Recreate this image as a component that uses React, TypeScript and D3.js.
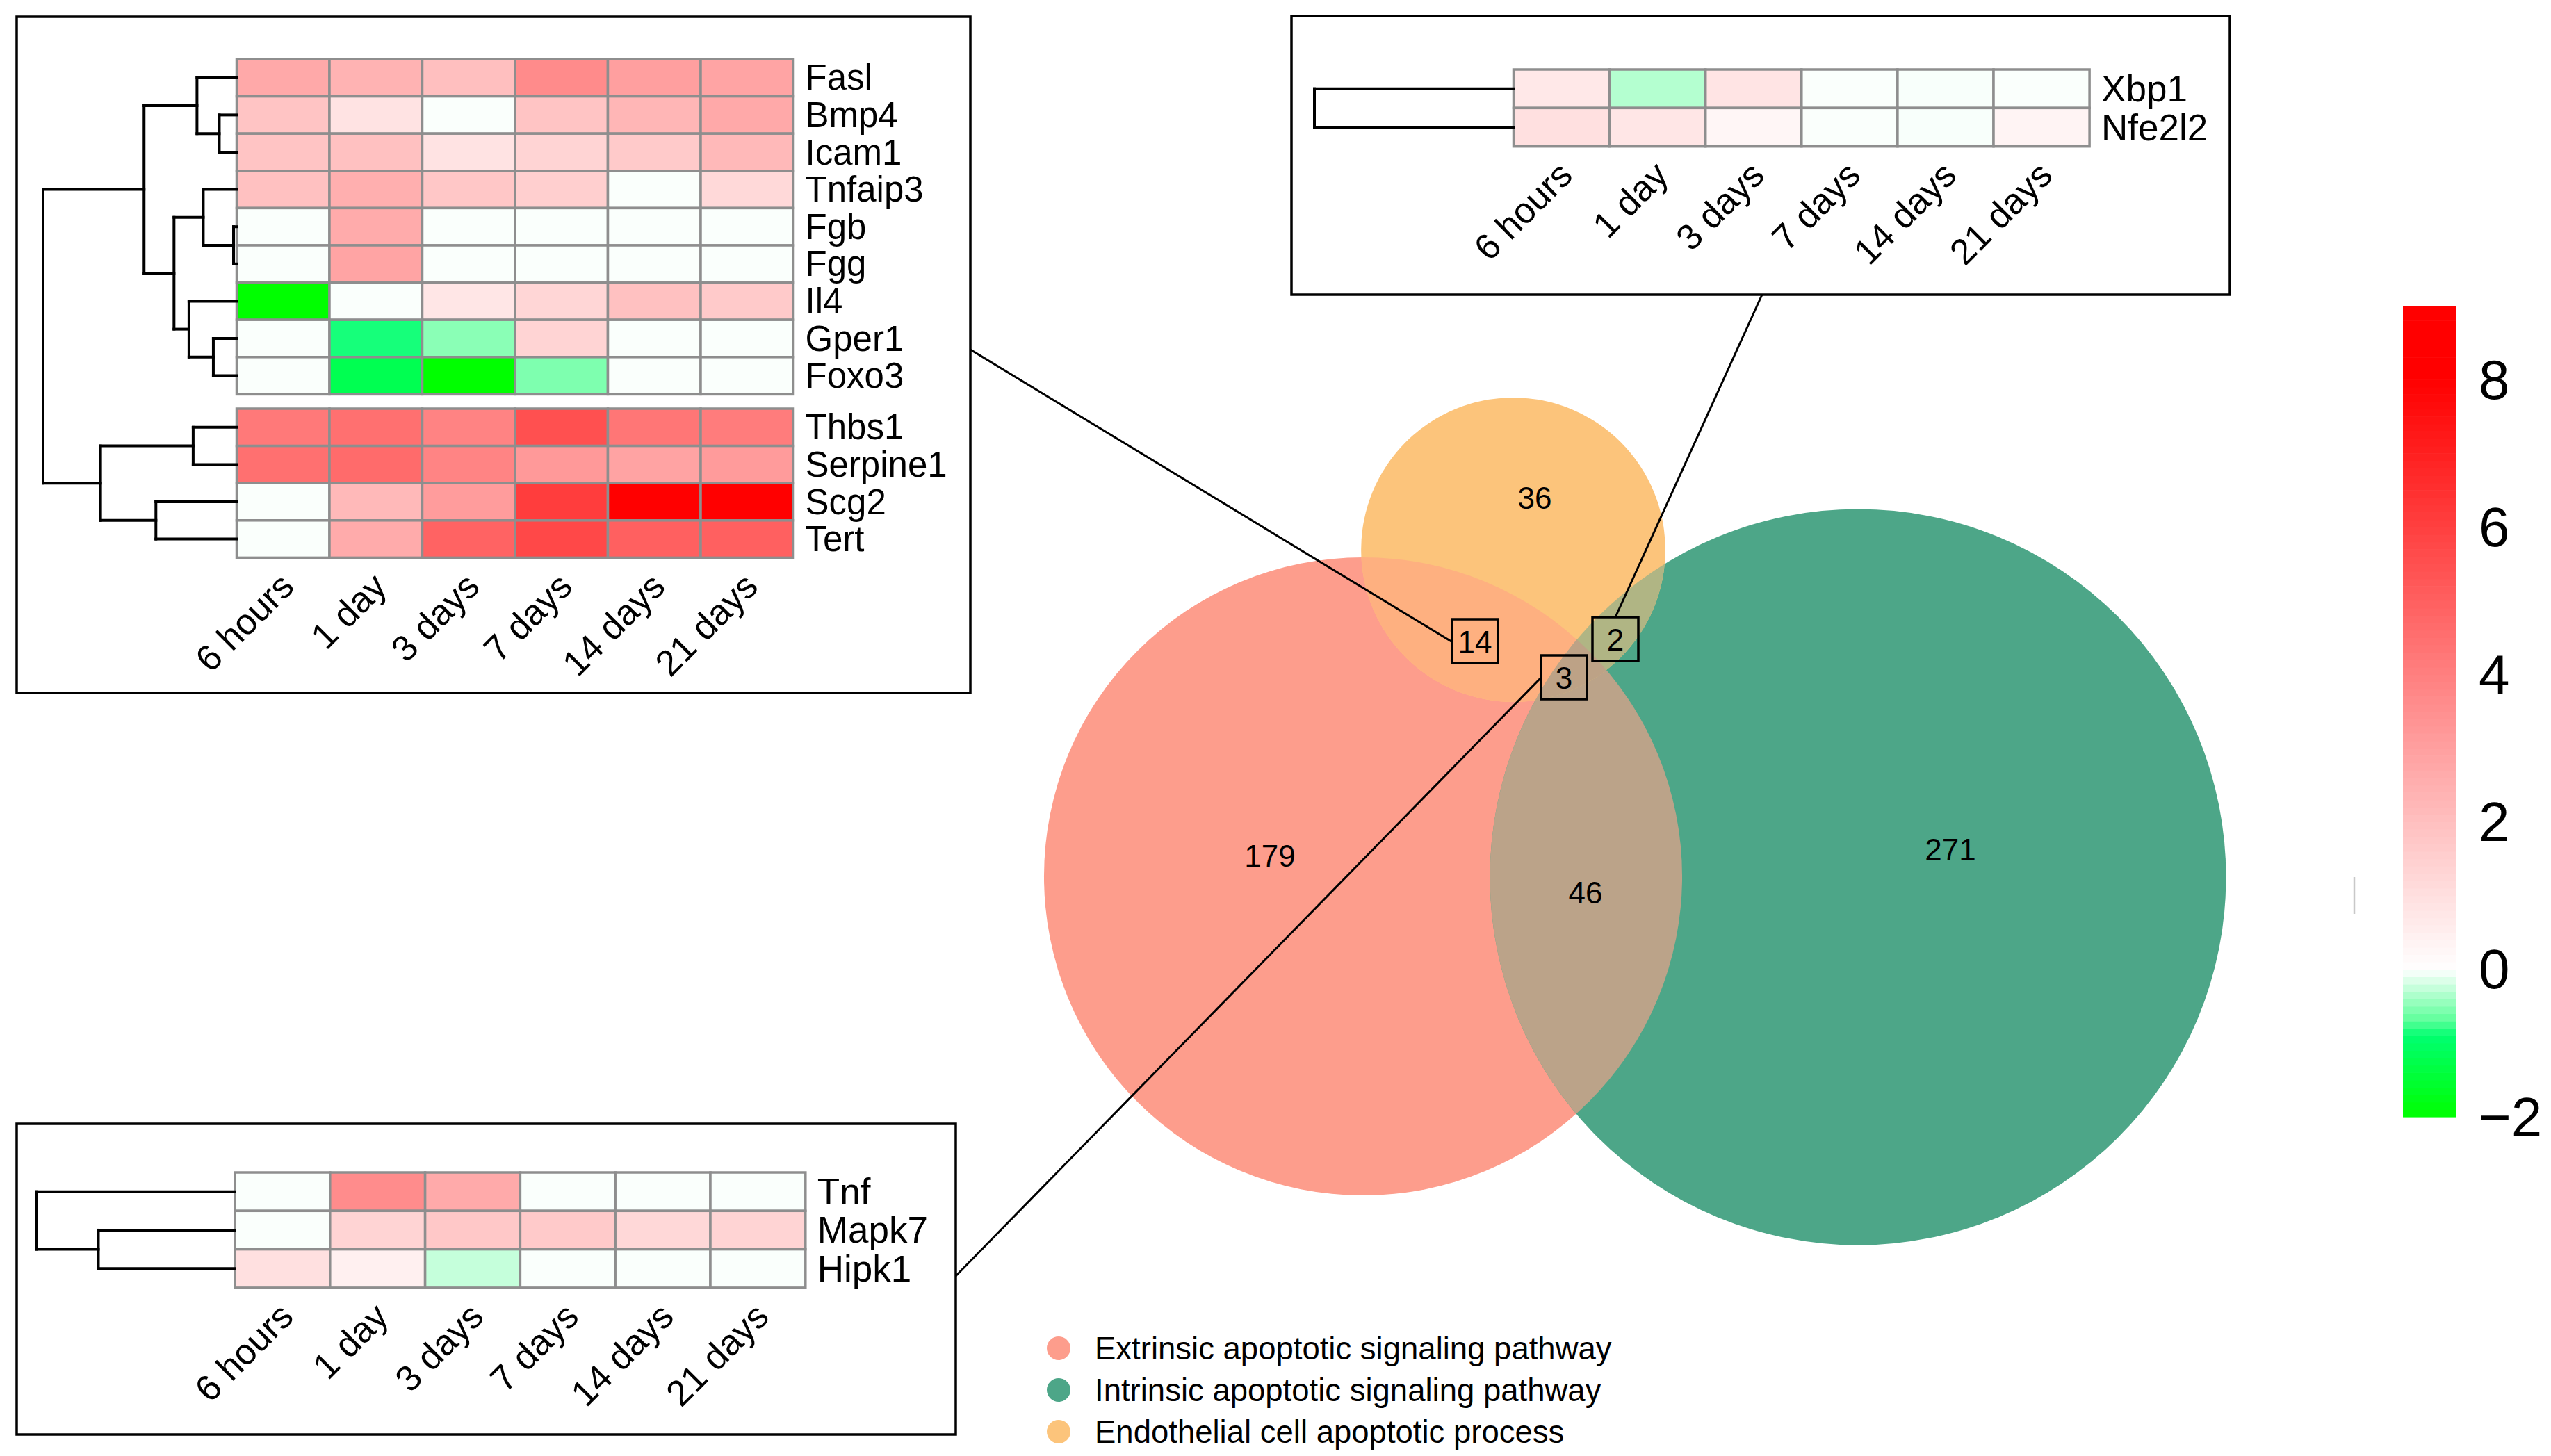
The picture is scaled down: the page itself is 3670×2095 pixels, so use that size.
import { useEffect, useRef } from 'react';
import * as d3 from 'd3';

const timepoints = ["6 hours", "1 day", "3 days", "7 days", "14 days", "21 days"];

// Extrinsic ∩ Endothelial genes (top-left heatmap), log2 fold change
const extEndoGenes = ["Fasl", "Bmp4", "Icam1", "Tnfaip3", "Fgb", "Fgg", "Il4", "Gper1", "Foxo3", "Thbs1", "Serpine1", "Scg2", "Tert"];
const extEndoValues = [
  [2.7, 2.4, 2.0, 3.65, 3.0, 2.85],
  [1.85, 0.88, -0.02, 1.85, 2.3, 2.7],
  [1.85, 1.95, 0.88, 1.35, 1.65, 2.2],
  [1.95, 2.5, 1.75, 1.5, -0.02, 1.2],
  [-0.02, 2.65, -0.02, -0.02, -0.02, -0.02],
  [-0.02, 2.85, -0.02, -0.02, -0.02, -0.02],
  [-2, -0.02, 0.78, 1.3, 1.95, 1.65],
  [-0.02, -0.85, -0.5, 1.35, -0.02, -0.02],
  [-0.02, -1.2, -2, -0.55, -0.02, -0.02],
  [4.2, 4.5, 3.9, 5.5, 4.3, 4.1],
  [4.5, 4.65, 3.85, 3.2, 2.9, 3.15],
  [-0.02, 2.2, 3.1, 6.1, 8.6, 8.4],
  [-0.02, 2.65, 4.9, 5.75, 5.0, 5.0],
];
// merge heights of the row clustering
const extEndoTree = {
  h: 27.8, children: [
    { h: 13.3, children: [
      { h: 5.7, children: [{ leaf: 0 }, { h: 2.5, children: [{ leaf: 1 }, { leaf: 2 }] }] },
      { h: 9.0, children: [
        { h: 4.8, children: [{ leaf: 3 }, { h: 0.45, children: [{ leaf: 4 }, { leaf: 5 }] }] },
        { h: 6.85, children: [{ leaf: 6 }, { h: 3.35, children: [{ leaf: 7 }, { leaf: 8 }] }] },
      ] },
    ] },
    { h: 19.55, children: [
      { h: 6.25, children: [{ leaf: 9 }, { leaf: 10 }] },
      { h: 11.6, children: [{ leaf: 11 }, { leaf: 12 }] },
    ] },
  ],
};

// Intrinsic ∩ Endothelial genes (top-right heatmap)
const intEndoGenes = ["Xbp1", "Nfe2l2"];
const intEndoValues = [
  [0.72, -0.32, 0.85, -0.02, -0.03, -0.02],
  [0.97, 0.78, 0.28, -0.02, -0.03, 0.34],
];
const intEndoTree = { h: 1.9, children: [{ leaf: 0 }, { leaf: 1 }] };

// genes in all three sets (bottom-left heatmap)
const allGenes = ["Tnf", "Mapk7", "Hipk1"];
const allValues = [
  [-0.02, 3.6, 2.67, -0.02, -0.02, -0.02],
  [-0.02, 1.35, 1.73, 1.66, 1.22, 1.35],
  [0.97, 0.47, -0.25, -0.02, -0.02, -0.02],
];
const allTree = { h: 3.1, children: [{ leaf: 0 }, { h: 2.13, children: [{ leaf: 1 }, { leaf: 2 }] }] };

// Venn sets
const setNames = ["Extrinsic apoptotic signaling pathway", "Intrinsic apoptotic signaling pathway", "Endothelial cell apoptotic process"];
const setColors = ["#FD9D8C", "#4DA688", "#FCC47B"];
// regions: ext only, int only, endo only, ext&int, ext&endo, int&endo, all
const regionKeys = ["E", "I", "D", "EI", "ED", "ID", "EID"];
const regionCounts = [179, 271, 36, 46, 14, 2, 3];
const overlapColors = { EI: "#BBA389", ED: "#FEB080", ID: "#B0B584", EID: "#BDA286" };

const colorTicks = [-2, 0, 2, 4, 6, 8];

const FONT = "'Liberation Sans', Arial, Helvetica, sans-serif";

const color = d3.scaleLinear<string>()
  .domain([-2, -0.9, -0.68, 0, 8])
  .range(["#00ff00", "#00ff70", "#60ff9c", "#ffffff", "#ff0000"])
  .clamp(true);

type TreeNode = { h?: number; leaf?: number; children?: TreeNode[] };

interface PanelLayout {
  box: [number, number, number, number];
  left: number;
  top: number;
  cellW: number;
  cellH: number;
  treeW: number;
  labelSize: number;
  gapAfter?: number;
  gap?: number;
}

function drawPanel(
  svg: d3.Selection<SVGSVGElement, unknown, null, undefined>,
  genes: string[],
  values: number[][],
  tree: TreeNode,
  L: PanelLayout
) {
  const g = svg.append("g");

  // frame
  g.append("rect")
    .attr("x", L.box[0]).attr("y", L.box[1])
    .attr("width", L.box[2] - L.box[0]).attr("height", L.box[3] - L.box[1])
    .attr("fill", "white").attr("stroke", "black").attr("stroke-width", 3.5);

  const x = d3.scaleBand().domain(timepoints).range([L.left, L.left + L.cellW * timepoints.length]);
  const rowY = (i: number) => L.top + i * L.cellH + (L.gapAfter !== undefined && i > L.gapAfter ? (L.gap || 0) : 0);
  const bottom = rowY(genes.length - 1) + L.cellH;

  // cells
  genes.forEach((gene, i) => {
    g.selectAll(null)
      .data(values[i])
      .enter()
      .append("rect")
      .attr("x", (_, j) => x(timepoints[j]) || 0)
      .attr("y", rowY(i))
      .attr("width", x.bandwidth())
      .attr("height", L.cellH)
      .attr("fill", d => color(d))
      .attr("stroke", "#8e8e8e")
      .attr("stroke-width", 3.5);
  });

  // row labels
  g.selectAll(null)
    .data(genes)
    .enter()
    .append("text")
    .attr("x", x.range()[1] + 17)
    .attr("y", (_, i) => rowY(i) + L.cellH / 2)
    .attr("dominant-baseline", "central")
    .attr("font-family", FONT)
    .attr("font-size", L.labelSize)
    .text(d => d);

  // column labels
  g.selectAll(null)
    .data(timepoints)
    .enter()
    .append("text")
    .attr("transform", d => `translate(${(x(d) || 0) + x.bandwidth() / 2 - 8},${bottom + 18}) rotate(-45)`)
    .attr("text-anchor", "end")
    .attr("dy", "0.72em")
    .attr("font-family", FONT)
    .attr("font-size", 52)
    .text(d => d);

  // dendrogram
  const hx = d3.scaleLinear().domain([0, tree.h || 1]).range([L.left, L.left - L.treeW]);
  const lines: [number, number, number, number][] = [];
  const walk = (n: TreeNode): number => {
    if (n.leaf !== undefined) return rowY(n.leaf) + L.cellH / 2;
    const ys = (n.children || []).map(walk);
    const xn = hx(n.h || 0);
    lines.push([xn, ys[0], xn, ys[ys.length - 1]]);
    (n.children || []).forEach((c, k) => {
      lines.push([xn, ys[k], hx(c.leaf !== undefined ? 0 : (c.h || 0)), ys[k]]);
    });
    return (ys[0] + ys[ys.length - 1]) / 2;
  };
  walk(tree);
  g.selectAll(null)
    .data(lines)
    .enter()
    .append("line")
    .attr("x1", d => d[0]).attr("y1", d => d[1])
    .attr("x2", d => d[2]).attr("y2", d => d[3])
    .attr("stroke", "black")
    .attr("stroke-width", 4)
    .attr("stroke-linecap", "square");
}

export default function App() {
  const svgRef = useRef<SVGSVGElement>(null);

  useEffect(() => {
    if (!svgRef.current) return;
    const svg = d3.select(svgRef.current);
    svg.selectAll("*").remove();

    svg.append("rect").attr("width", 3670).attr("height", 2095).attr("fill", "white");

    // ---- Venn diagram ----
    const totals = [
      regionCounts[0] + regionCounts[3] + regionCounts[4] + regionCounts[6],
      regionCounts[1] + regionCounts[3] + regionCounts[5] + regionCounts[6],
      regionCounts[2] + regionCounts[4] + regionCounts[5] + regionCounts[6],
    ];
    const r = d3.scaleSqrt().domain([0, d3.max(totals) || 1]).range([0, 529.5]);
    const centers: [number, number][] = [[1961, 1261], [2673, 1262], [2177, 791]];
    const ids = ["clip-ext", "clip-int", "clip-endo"];

    const defs = svg.append("defs");
    ids.forEach((id, i) => {
      defs.append("clipPath").attr("id", id)
        .append("circle").attr("cx", centers[i][0]).attr("cy", centers[i][1]).attr("r", r(totals[i]));
    });

    const venn = svg.append("g");
    const circle = (parent: d3.Selection<SVGGElement, unknown, null, undefined>, i: number, fill: string) =>
      parent.append("circle")
        .attr("cx", centers[i][0]).attr("cy", centers[i][1]).attr("r", r(totals[i]))
        .attr("fill", fill);

    setColors.forEach((c, i) => circle(venn, i, c));
    circle(venn, 1, overlapColors.EI).attr("clip-path", "url(#clip-ext)");
    circle(venn, 2, overlapColors.ED).attr("clip-path", "url(#clip-ext)");
    circle(venn, 2, overlapColors.ID).attr("clip-path", "url(#clip-int)");
    const tri = venn.append("g").attr("clip-path", "url(#clip-int)");
    circle(tri, 2, overlapColors.EID).attr("clip-path", "url(#clip-ext)");

    // region labels
    const labelPos: Record<string, [number, number]> = {
      E: [1827, 1231], I: [2806, 1222], D: [2208, 716], EI: [2281, 1284],
      ED: [2122, 923], ID: [2324, 920], EID: [2250, 975],
    };
    const boxed = ["ED", "ID", "EID"];

    // leader lines from boxed counts to heatmap panels
    const leaders: [number, number, number, number][] = [
      [1396, 503, 2088, 923],
      [2535, 424, 2324, 888],
      [1375, 1836, 2217, 975],
    ];
    svg.selectAll(null)
      .data(leaders)
      .enter()
      .append("line")
      .attr("x1", d => d[0]).attr("y1", d => d[1])
      .attr("x2", d => d[2]).attr("y2", d => d[3])
      .attr("stroke", "black").attr("stroke-width", 3);

    regionKeys.forEach((k, i) => {
      const [lx, ly] = labelPos[k];
      if (boxed.includes(k)) {
        svg.append("rect")
          .attr("x", lx - 33).attr("y", ly - 32)
          .attr("width", 66).attr("height", 63)
          .attr("fill", "none").attr("stroke", "black").attr("stroke-width", 3.5);
      }
      svg.append("text")
        .attr("x", lx).attr("y", ly)
        .attr("text-anchor", "middle").attr("dominant-baseline", "central")
        .attr("font-family", FONT).attr("font-size", 44)
        .text(regionCounts[i]);
    });

    // legend
    const legY = d3.scaleBand().domain(setNames).range([1910, 2090]);
    const leg = svg.append("g");
    leg.selectAll(null).data(setNames).enter().append("circle")
      .attr("cx", 1523).attr("cy", d => (legY(d) || 0) + legY.bandwidth() / 2)
      .attr("r", 17).attr("fill", (_, i) => setColors[i]);
    leg.selectAll(null).data(setNames).enter().append("text")
      .attr("x", 1575).attr("y", d => (legY(d) || 0) + legY.bandwidth() / 2)
      .attr("dominant-baseline", "central")
      .attr("font-family", FONT).attr("font-size", 45.5)
      .text(d => d);

    // ---- heatmap panels ----
    drawPanel(svg, extEndoGenes, extEndoValues, extEndoTree, {
      box: [24, 24, 1396, 997], left: 340.5, top: 85, cellW: 133.5, cellH: 53.6,
      treeW: 278.5, labelSize: 51, gapAfter: 8, gap: 20.6,
    });
    drawPanel(svg, intEndoGenes, intEndoValues, intEndoTree, {
      box: [1858, 23, 3208, 424], left: 2177.5, top: 100, cellW: 138.1, cellH: 55.35,
      treeW: 286.5, labelSize: 53,
    });
    drawPanel(svg, allGenes, allValues, allTree, {
      box: [24, 1617, 1375, 2064], left: 338, top: 1687, cellW: 136.8, cellH: 55.3,
      treeW: 286, labelSize: 53,
    });

    // ---- colour key ----
    const ky = d3.scaleLinear().domain([-2, 9]).range([1607, 440]);
    const steps = d3.range(-2, 9, 0.1);
    const key = svg.append("g");
    key.selectAll(null).data(steps).enter().append("rect")
      .attr("x", 3457).attr("width", 77)
      .attr("y", d => ky(d + 0.1))
      .attr("height", d => ky(d) - ky(d + 0.1) + 0.6)
      .attr("fill", d => color(d + 0.05));
    key.selectAll(null).data(colorTicks).enter().append("text")
      .attr("x", 3566).attr("y", d => ky(d))
      .attr("dominant-baseline", "central")
      .attr("font-family", FONT).attr("font-size", 80)
      .text(d => d3.format("d")(d));

    // faint stray tick left of the key
    svg.append("line")
      .attr("x1", 3387).attr("x2", 3387).attr("y1", 1262).attr("y2", 1315)
      .attr("stroke", "#c8c8c8").attr("stroke-width", 2.5);
  }, []);

  return (
    <svg
      ref={svgRef}
      width={3670}
      height={2095}
      style={{ position: "absolute", left: 0, top: 0, display: "block" }}
    />
  );
}
